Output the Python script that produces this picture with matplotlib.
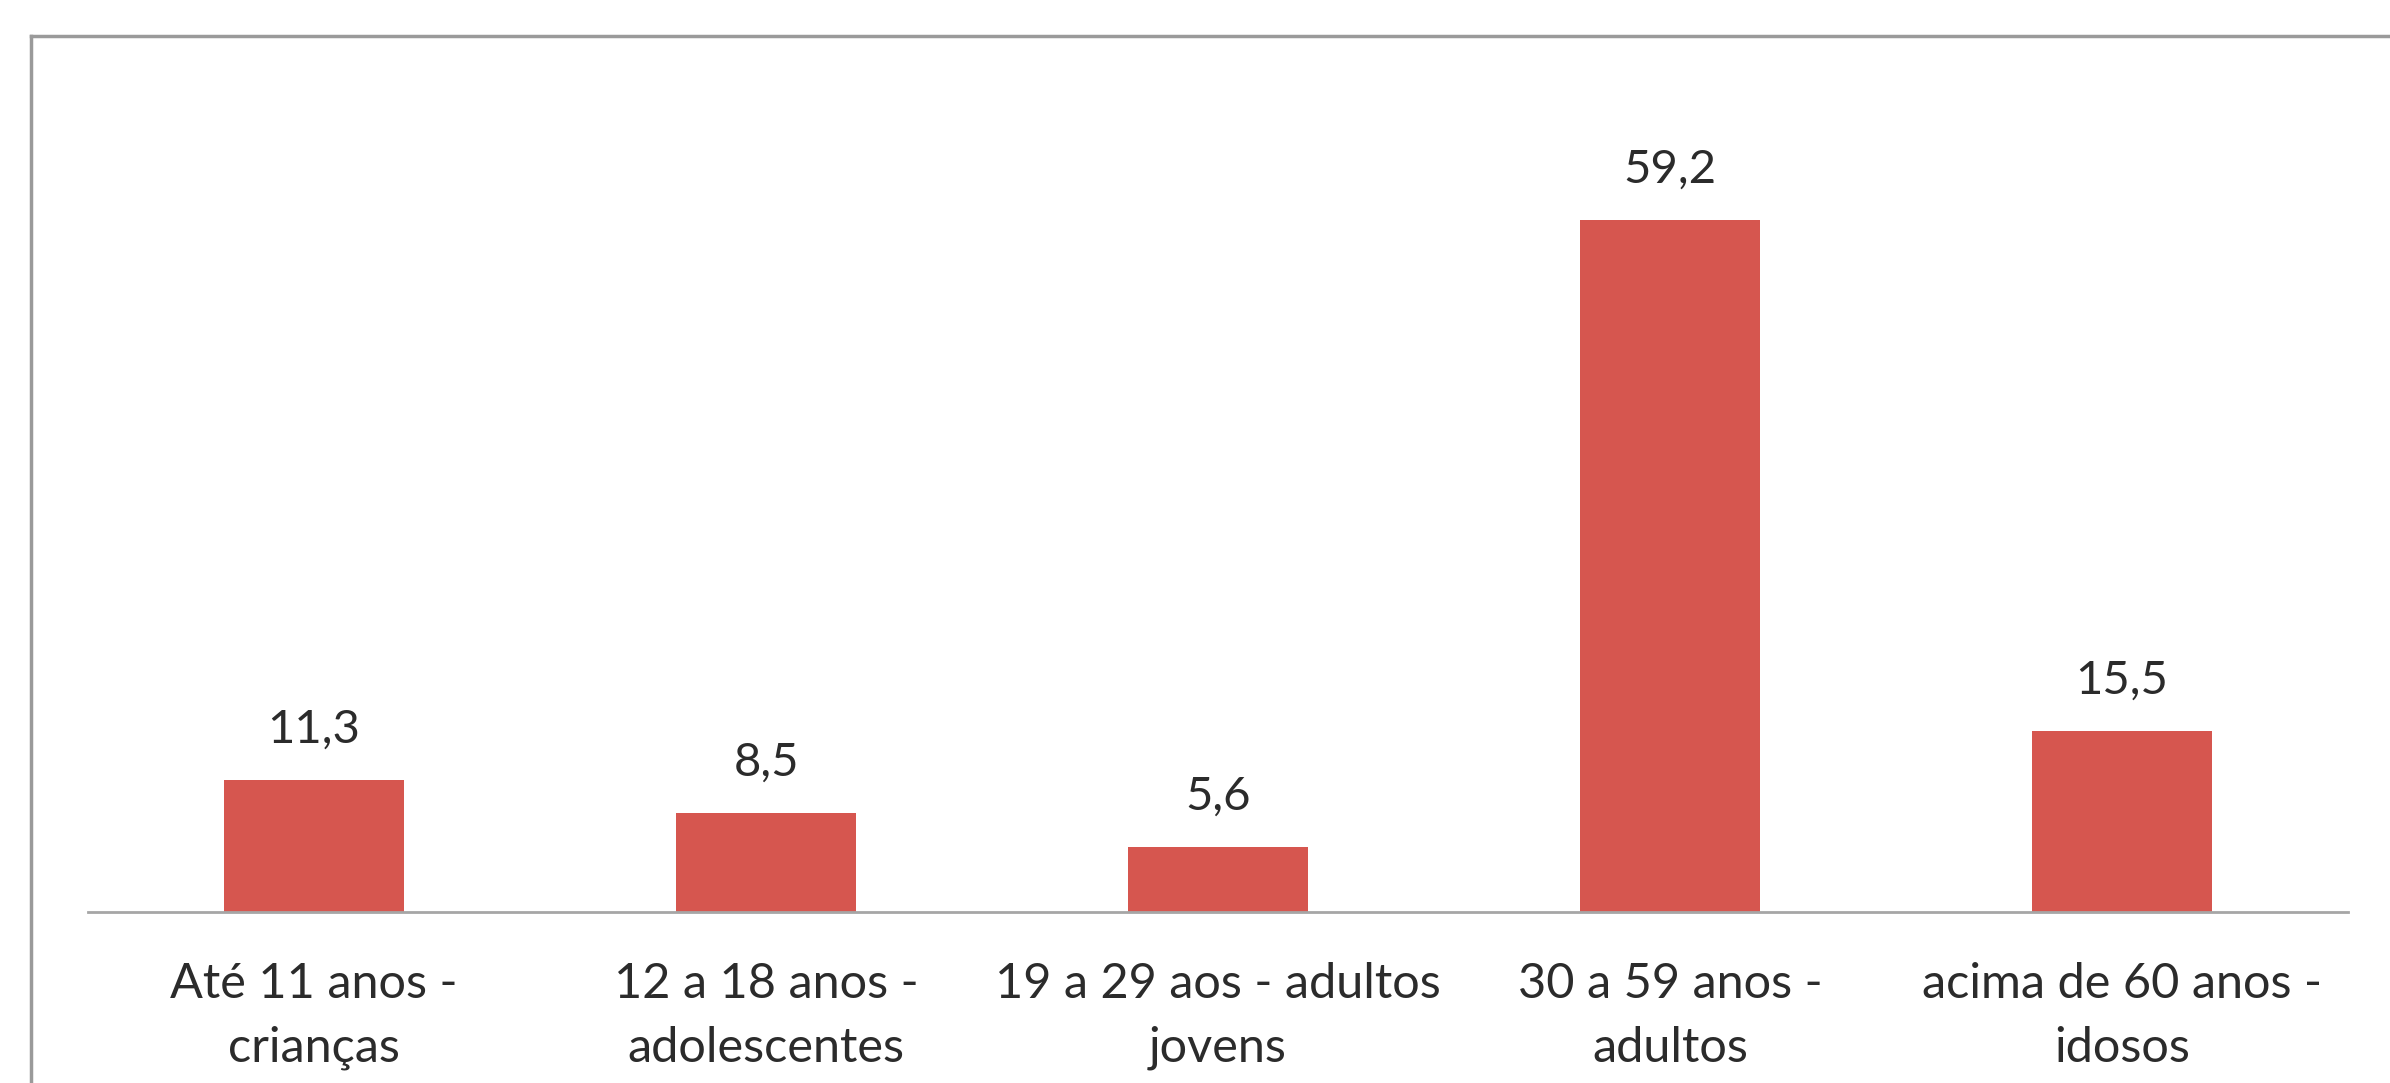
import matplotlib.pyplot as plt
from matplotlib.lines import Line2D

# Faixa etária x percentual
categorias = ['Até 11 anos -\ncrianças', '12 a 18 anos -\nadolescentes',
              '19 a 29 aos - adultos\njovens', '30 a 59 anos -\nadultos',
              'acima de 60 anos -\nidosos']
valores = [11.3, 8.5, 5.6, 59.2, 15.5]
rotulos = ['11,3', '8,5', '5,6', '59,2', '15,5']

plt.rcParams['font.family'] = ['Lato', 'DejaVu Sans']
texto = '#2b2b2b'

W, H = 2390, 1083
fig = plt.figure(figsize=(W / 100, H / 100), dpi=100)
fig.patch.set_facecolor('white')

# area do grafico em pixels: x 88..2348, eixo em y=912
ax = fig.add_axes([88 / W, (H - 912) / H, (2348 - 88) / W, (912 - 94) / H])
x = range(len(valores))
bars = ax.bar(x, valores, width=0.4, color='#D6564F')
ax.set_xlim(-0.5, len(valores) - 0.5)
ax.set_ylim(0, 70)

for b, r in zip(bars, rotulos):
    ax.annotate(r, (b.get_x() + b.get_width() / 2, b.get_height()),
                xytext=(0, 21), textcoords='offset points',
                ha='center', va='bottom', fontsize=34, color=texto)

ax.set_xticks(list(x))
ax.set_xticklabels(categorias, fontsize=35, color=texto, linespacing=1.55)
ax.tick_params(axis='x', length=0, pad=36)
ax.set_yticks([])
for s in ['top', 'right', 'left']:
    ax.spines[s].set_visible(False)
ax.spines['bottom'].set_color('#a6a6a6')
ax.spines['bottom'].set_linewidth(2)

# moldura cinza (bordas superior e esquerda)
fx, fy = 31 / W, (H - 36) / H
fig.add_artist(Line2D([fx, 1], [fy, fy], transform=fig.transFigure,
                      color='#9a9a9a', lw=2.5))
fig.add_artist(Line2D([fx, fx], [0, fy], transform=fig.transFigure,
                      color='#9a9a9a', lw=2.5))

fig.savefig('out.png', dpi=100, facecolor='white')
